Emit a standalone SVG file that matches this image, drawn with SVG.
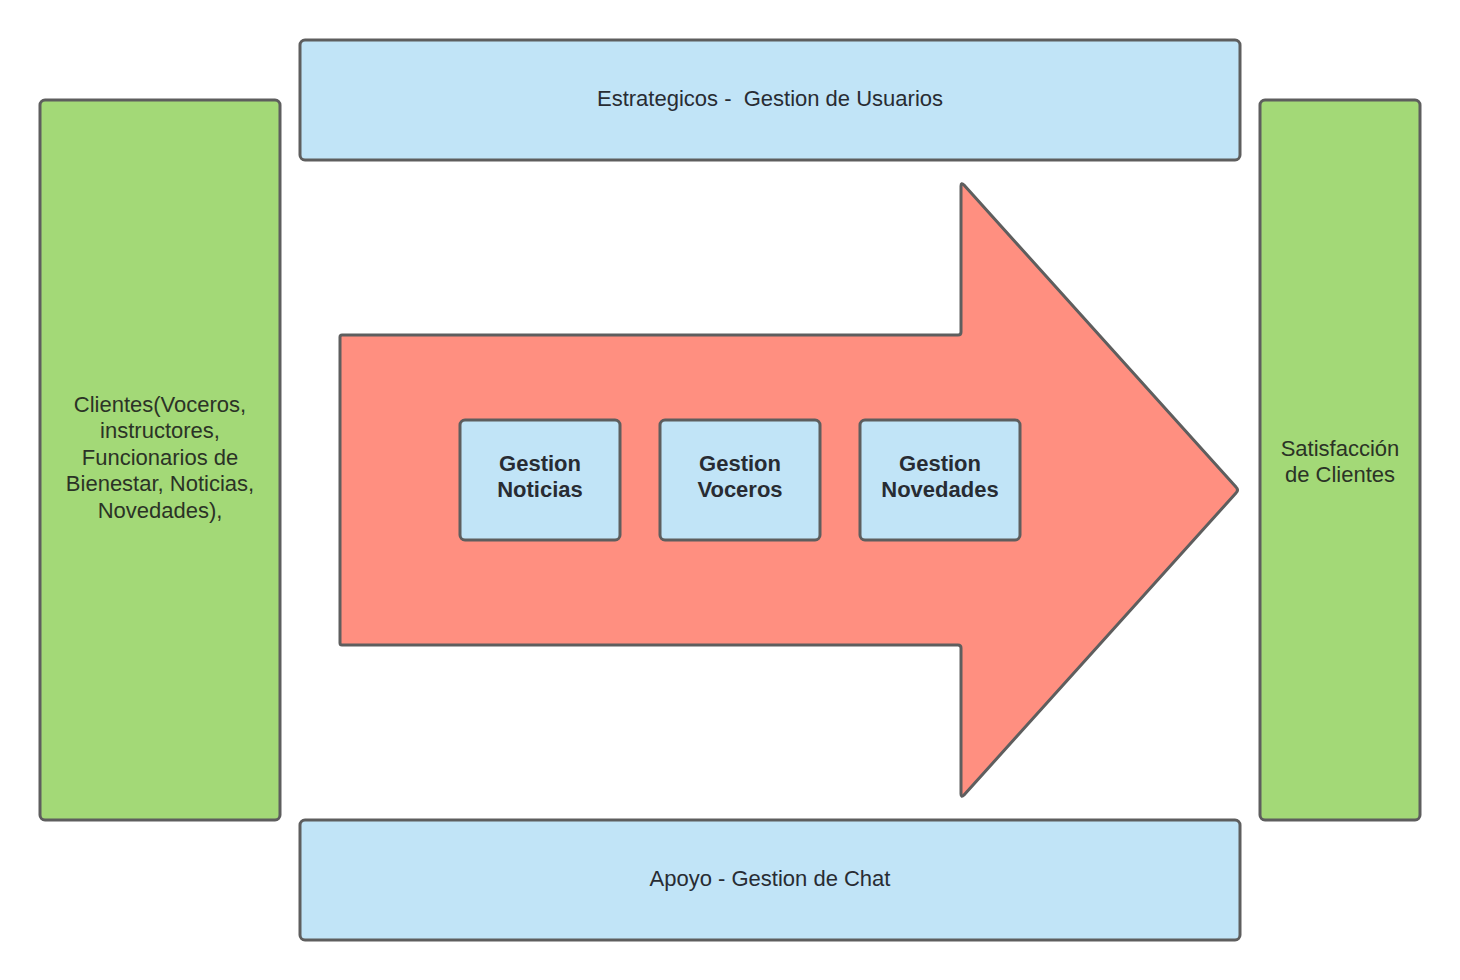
<svg xmlns="http://www.w3.org/2000/svg" width="1460" height="980" viewBox="0 0 1460 980">
<style>
.s{stroke:#5e5e5e;stroke-width:3;stroke-linejoin:round}
.blue{fill:#c1e4f7}
.green{fill:#a3d977}
.red{fill:#ff8f80}
text{font-family:"Liberation Sans",Arial,sans-serif;font-size:22px;text-anchor:middle;fill:#282c33;white-space:pre}
.g text{fill:#2b3326}
.b{font-weight:bold}
</style>
<rect width="1460" height="980" fill="#ffffff"/>
<g id="connectors"></g>
<g id="arrow">
<path class="s red" d="M342,335 L958,335 Q961,335 961,332 L961,186 Q961,182 964,185 L1236,487 Q1239,490 1236,493 L964,795 Q961,798 961,794 L961,648 Q961,645 958,645 L342,645 Q340,645 340,643 L340,337 Q340,335 342,335 Z"/>
</g>
<g id="clientes" class="g">
<rect class="s green" x="40" y="100" width="240" height="720" rx="5"/>
<text x="160" y="412">Clientes(Voceros,</text>
<text x="160" y="438">instructores,</text>
<text x="160" y="465">Funcionarios de</text>
<text x="160" y="491">Bienestar, Noticias,</text>
<text x="160" y="518">Novedades),</text>
</g>
<g id="satisfaccion" class="g">
<rect class="s green" x="1260" y="100" width="160" height="720" rx="5"/>
<text x="1340" y="456">Satisfacción</text>
<text x="1340" y="482">de Clientes</text>
</g>
<g id="estrategicos">
<rect class="s blue" x="300" y="40" width="940" height="120" rx="5"/>
<text x="770" y="106">Estrategicos -  Gestion de Usuarios</text>
</g>
<g id="apoyo">
<rect class="s blue" x="300" y="820" width="940" height="120" rx="5"/>
<text x="770" y="886">Apoyo - Gestion de Chat</text>
</g>
<g id="noticias">
<rect class="s blue" x="460" y="420" width="160" height="120" rx="5"/>
<text class="b" x="540" y="471">Gestion</text>
<text class="b" x="540" y="497">Noticias</text>
</g>
<g id="voceros">
<rect class="s blue" x="660" y="420" width="160" height="120" rx="5"/>
<text class="b" x="740" y="471">Gestion</text>
<text class="b" x="740" y="497">Voceros</text>
</g>
<g id="novedades">
<rect class="s blue" x="860" y="420" width="160" height="120" rx="5"/>
<text class="b" x="940" y="471">Gestion</text>
<text class="b" x="940" y="497">Novedades</text>
</g>
</svg>
